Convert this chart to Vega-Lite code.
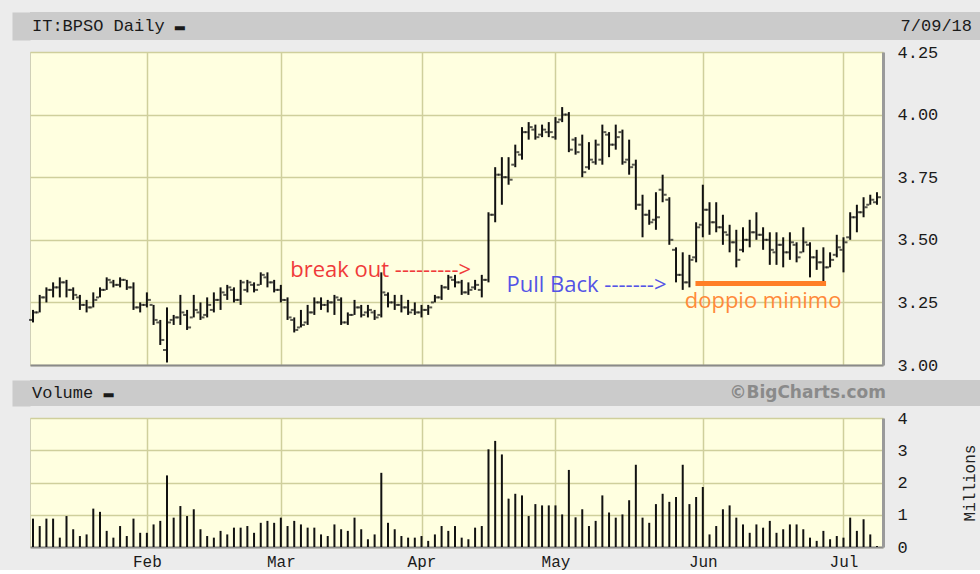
{
  "$schema": "https://vega.github.io/schema/vega-lite/v6.json",
  "background": "#ececec",
  "padding": {"left": 12, "top": 12, "right": 0, "bottom": 0},
  "spacing": 2,
  "config": {
    "view": {"stroke": null},
    "axis": {
      "gridColor": "#cfcf9c", "gridWidth": 1.5, "gridOpacity": 1,
      "labelFont": "Liberation Mono", "labelFontSize": 17, "labelColor": "#1a1a1a",
      "ticks": false, "domainColor": "#8a8a8a", "domainWidth": 2,
      "titleFont": "Liberation Mono", "titleFontSize": 16, "titleFontWeight": "normal", "titleColor": "#222"
    }
  },
  "datasets": {
    "hdr1": [{"pos": 0, "label": "IT:BPSO Daily ▬"}, {"pos": 1, "label": "7/09/18"}],
    "hdr2": [{"pos": 0, "label": "Volume ▬"}, {"pos": 1, "label": "©BigCharts.com"}],
    "notes": [
      {"x": 38.4, "y": 3.38, "label": "break out --------->", "kind": "break"},
      {"x": 70.7, "y": 3.32, "label": "Pull Back ------->", "kind": "pull"},
      {"x": 97.3, "y": 3.255, "label": "doppio minimo", "kind": "doppio"}
    ],
    "support": [{"x1": 98.9, "x2": 118.4, "y": 3.325}],
    "bars": [
      {"i":0,"o":3.18,"h":3.22,"l":3.17,"c":3.21,"v":0.88},
      {"i":1,"o":3.21,"h":3.28,"l":3.21,"c":3.27,"v":0.65},
      {"i":2,"o":3.27,"h":3.31,"l":3.25,"c":3.30,"v":0.88},
      {"i":3,"o":3.30,"h":3.33,"l":3.27,"c":3.31,"v":0.88},
      {"i":4,"o":3.31,"h":3.35,"l":3.27,"c":3.33,"v":0.29},
      {"i":5,"o":3.33,"h":3.34,"l":3.27,"c":3.30,"v":0.96},
      {"i":6,"o":3.30,"h":3.31,"l":3.26,"c":3.28,"v":0.55},
      {"i":7,"o":3.27,"h":3.28,"l":3.22,"c":3.24,"v":0.34},
      {"i":8,"o":3.24,"h":3.26,"l":3.21,"c":3.23,"v":0.39},
      {"i":9,"o":3.23,"h":3.29,"l":3.23,"c":3.26,"v":1.19},
      {"i":10,"o":3.27,"h":3.31,"l":3.27,"c":3.30,"v":1.09},
      {"i":11,"o":3.30,"h":3.35,"l":3.30,"c":3.34,"v":0.50},
      {"i":12,"o":3.33,"h":3.34,"l":3.31,"c":3.32,"v":0.29},
      {"i":13,"o":3.32,"h":3.35,"l":3.31,"c":3.34,"v":0.65},
      {"i":14,"o":3.34,"h":3.34,"l":3.30,"c":3.31,"v":0.34},
      {"i":15,"o":3.31,"h":3.33,"l":3.22,"c":3.23,"v":0.88},
      {"i":16,"o":3.23,"h":3.25,"l":3.21,"c":3.24,"v":0.44},
      {"i":17,"o":3.24,"h":3.29,"l":3.23,"c":3.26,"v":0.44},
      {"i":18,"o":3.24,"h":3.24,"l":3.16,"c":3.18,"v":0.70},
      {"i":19,"o":3.17,"h":3.18,"l":3.08,"c":3.10,"v":0.81},
      {"i":20,"o":3.06,"h":3.23,"l":3.01,"c":3.17,"v":2.22},
      {"i":21,"o":3.18,"h":3.20,"l":3.16,"c":3.19,"v":0.91},
      {"i":22,"o":3.19,"h":3.28,"l":3.16,"c":3.21,"v":1.27},
      {"i":23,"o":3.20,"h":3.22,"l":3.14,"c":3.15,"v":0.96},
      {"i":24,"o":3.19,"h":3.28,"l":3.19,"c":3.22,"v":1.17},
      {"i":25,"o":3.21,"h":3.25,"l":3.18,"c":3.19,"v":0.55},
      {"i":26,"o":3.20,"h":3.27,"l":3.19,"c":3.24,"v":0.34},
      {"i":27,"o":3.22,"h":3.29,"l":3.21,"c":3.26,"v":0.29},
      {"i":28,"o":3.26,"h":3.31,"l":3.22,"c":3.29,"v":0.50},
      {"i":29,"o":3.28,"h":3.32,"l":3.26,"c":3.31,"v":0.39},
      {"i":30,"o":3.30,"h":3.31,"l":3.25,"c":3.26,"v":0.60},
      {"i":31,"o":3.26,"h":3.34,"l":3.24,"c":3.33,"v":0.60},
      {"i":32,"o":3.30,"h":3.34,"l":3.29,"c":3.33,"v":0.65},
      {"i":33,"o":3.32,"h":3.33,"l":3.29,"c":3.30,"v":0.44},
      {"i":34,"o":3.32,"h":3.37,"l":3.32,"c":3.36,"v":0.75},
      {"i":35,"o":3.35,"h":3.37,"l":3.31,"c":3.33,"v":0.81},
      {"i":36,"o":3.33,"h":3.34,"l":3.29,"c":3.30,"v":0.75},
      {"i":37,"o":3.30,"h":3.32,"l":3.25,"c":3.26,"v":0.91},
      {"i":38,"o":3.26,"h":3.27,"l":3.18,"c":3.19,"v":0.65},
      {"i":39,"o":3.18,"h":3.19,"l":3.13,"c":3.14,"v":0.81},
      {"i":40,"o":3.15,"h":3.22,"l":3.15,"c":3.16,"v":0.70},
      {"i":41,"o":3.17,"h":3.24,"l":3.16,"c":3.21,"v":0.60},
      {"i":42,"o":3.21,"h":3.27,"l":3.20,"c":3.25,"v":0.60},
      {"i":43,"o":3.25,"h":3.27,"l":3.22,"c":3.24,"v":0.39},
      {"i":44,"o":3.24,"h":3.26,"l":3.21,"c":3.25,"v":0.34},
      {"i":45,"o":3.25,"h":3.28,"l":3.20,"c":3.27,"v":0.70},
      {"i":46,"o":3.26,"h":3.27,"l":3.16,"c":3.17,"v":0.55},
      {"i":47,"o":3.17,"h":3.21,"l":3.16,"c":3.20,"v":0.50},
      {"i":48,"o":3.20,"h":3.26,"l":3.20,"c":3.23,"v":0.91},
      {"i":49,"o":3.23,"h":3.24,"l":3.19,"c":3.20,"v":0.55},
      {"i":50,"o":3.21,"h":3.24,"l":3.19,"c":3.22,"v":0.24},
      {"i":51,"o":3.21,"h":3.22,"l":3.18,"c":3.19,"v":0.39},
      {"i":52,"o":3.20,"h":3.37,"l":3.19,"c":3.29,"v":2.30},
      {"i":53,"o":3.28,"h":3.29,"l":3.23,"c":3.25,"v":0.75},
      {"i":54,"o":3.25,"h":3.28,"l":3.22,"c":3.24,"v":0.55},
      {"i":55,"o":3.24,"h":3.28,"l":3.21,"c":3.23,"v":0.34},
      {"i":56,"o":3.23,"h":3.26,"l":3.20,"c":3.21,"v":0.29},
      {"i":57,"o":3.22,"h":3.25,"l":3.20,"c":3.21,"v":0.29},
      {"i":58,"o":3.21,"h":3.24,"l":3.19,"c":3.22,"v":0.34},
      {"i":59,"o":3.22,"h":3.24,"l":3.20,"c":3.23,"v":0.19},
      {"i":60,"o":3.25,"h":3.28,"l":3.25,"c":3.27,"v":0.39},
      {"i":61,"o":3.27,"h":3.32,"l":3.26,"c":3.31,"v":0.65},
      {"i":62,"o":3.31,"h":3.36,"l":3.30,"c":3.35,"v":0.50},
      {"i":63,"o":3.34,"h":3.36,"l":3.31,"c":3.33,"v":0.65},
      {"i":64,"o":3.33,"h":3.34,"l":3.28,"c":3.29,"v":0.29},
      {"i":65,"o":3.29,"h":3.33,"l":3.28,"c":3.30,"v":0.24},
      {"i":66,"o":3.31,"h":3.34,"l":3.30,"c":3.32,"v":0.60},
      {"i":67,"o":3.30,"h":3.36,"l":3.27,"c":3.34,"v":0.65},
      {"i":68,"o":3.34,"h":3.61,"l":3.33,"c":3.60,"v":3.03},
      {"i":69,"o":3.60,"h":3.79,"l":3.57,"c":3.76,"v":3.29},
      {"i":70,"o":3.76,"h":3.83,"l":3.64,"c":3.75,"v":2.87},
      {"i":71,"o":3.75,"h":3.83,"l":3.72,"c":3.74,"v":1.50},
      {"i":72,"o":3.80,"h":3.88,"l":3.79,"c":3.85,"v":1.65},
      {"i":73,"o":3.84,"h":3.95,"l":3.82,"c":3.93,"v":1.60},
      {"i":74,"o":3.93,"h":3.97,"l":3.90,"c":3.95,"v":0.96},
      {"i":75,"o":3.94,"h":3.96,"l":3.90,"c":3.91,"v":1.33},
      {"i":76,"o":3.92,"h":3.96,"l":3.91,"c":3.94,"v":1.29},
      {"i":77,"o":3.93,"h":3.97,"l":3.91,"c":3.93,"v":1.29},
      {"i":78,"o":3.91,"h":3.99,"l":3.90,"c":3.97,"v":1.29},
      {"i":79,"o":3.98,"h":4.03,"l":3.97,"c":4.00,"v":1.01},
      {"i":80,"o":4.00,"h":4.01,"l":3.85,"c":3.86,"v":2.39},
      {"i":81,"o":3.90,"h":3.91,"l":3.84,"c":3.85,"v":0.92},
      {"i":82,"o":3.88,"h":3.92,"l":3.75,"c":3.77,"v":1.17},
      {"i":83,"o":3.79,"h":3.89,"l":3.78,"c":3.82,"v":0.65},
      {"i":84,"o":3.81,"h":3.90,"l":3.80,"c":3.88,"v":0.81},
      {"i":85,"o":3.82,"h":3.96,"l":3.80,"c":3.93,"v":1.60},
      {"i":86,"o":3.92,"h":3.93,"l":3.83,"c":3.88,"v":1.07},
      {"i":87,"o":3.88,"h":3.96,"l":3.86,"c":3.91,"v":0.91},
      {"i":88,"o":3.93,"h":3.94,"l":3.80,"c":3.81,"v":1.01},
      {"i":89,"o":3.82,"h":3.90,"l":3.76,"c":3.79,"v":1.45},
      {"i":90,"o":3.80,"h":3.82,"l":3.62,"c":3.64,"v":2.55},
      {"i":91,"o":3.64,"h":3.68,"l":3.51,"c":3.60,"v":0.91},
      {"i":92,"o":3.60,"h":3.62,"l":3.56,"c":3.57,"v":0.75},
      {"i":93,"o":3.58,"h":3.69,"l":3.54,"c":3.59,"v":1.33},
      {"i":94,"o":3.70,"h":3.76,"l":3.65,"c":3.68,"v":1.65},
      {"i":95,"o":3.66,"h":3.67,"l":3.48,"c":3.50,"v":1.40},
      {"i":96,"o":3.46,"h":3.47,"l":3.33,"c":3.36,"v":1.55},
      {"i":97,"o":3.36,"h":3.45,"l":3.30,"c":3.33,"v":2.55},
      {"i":98,"o":3.33,"h":3.44,"l":3.31,"c":3.42,"v":1.33},
      {"i":99,"o":3.43,"h":3.57,"l":3.41,"c":3.55,"v":1.55},
      {"i":100,"o":3.56,"h":3.72,"l":3.51,"c":3.62,"v":1.86},
      {"i":101,"o":3.62,"h":3.65,"l":3.52,"c":3.57,"v":0.39},
      {"i":102,"o":3.57,"h":3.65,"l":3.53,"c":3.55,"v":0.65},
      {"i":103,"o":3.55,"h":3.60,"l":3.48,"c":3.53,"v":1.17},
      {"i":104,"o":3.52,"h":3.56,"l":3.45,"c":3.49,"v":1.29},
      {"i":105,"o":3.49,"h":3.54,"l":3.39,"c":3.42,"v":0.91},
      {"i":106,"o":3.46,"h":3.55,"l":3.45,"c":3.50,"v":0.70},
      {"i":107,"o":3.50,"h":3.58,"l":3.47,"c":3.53,"v":0.44},
      {"i":108,"o":3.53,"h":3.61,"l":3.50,"c":3.52,"v":0.70},
      {"i":109,"o":3.52,"h":3.55,"l":3.46,"c":3.50,"v":0.60},
      {"i":110,"o":3.50,"h":3.53,"l":3.40,"c":3.46,"v":0.81},
      {"i":111,"o":3.45,"h":3.53,"l":3.40,"c":3.48,"v":0.44},
      {"i":112,"o":3.48,"h":3.51,"l":3.39,"c":3.45,"v":0.55},
      {"i":113,"o":3.45,"h":3.53,"l":3.42,"c":3.49,"v":0.70},
      {"i":114,"o":3.48,"h":3.49,"l":3.41,"c":3.43,"v":0.70},
      {"i":115,"o":3.45,"h":3.55,"l":3.45,"c":3.49,"v":0.55},
      {"i":116,"o":3.48,"h":3.49,"l":3.35,"c":3.43,"v":0.29},
      {"i":117,"o":3.43,"h":3.46,"l":3.38,"c":3.41,"v":0.19},
      {"i":118,"o":3.41,"h":3.47,"l":3.33,"c":3.39,"v":0.50},
      {"i":119,"o":3.39,"h":3.45,"l":3.39,"c":3.42,"v":0.24},
      {"i":120,"o":3.44,"h":3.52,"l":3.43,"c":3.47,"v":0.34},
      {"i":121,"o":3.46,"h":3.51,"l":3.37,"c":3.49,"v":0.29},
      {"i":122,"o":3.51,"h":3.61,"l":3.50,"c":3.59,"v":0.91},
      {"i":123,"o":3.59,"h":3.64,"l":3.53,"c":3.61,"v":0.50},
      {"i":124,"o":3.61,"h":3.67,"l":3.59,"c":3.63,"v":0.86},
      {"i":125,"o":3.64,"h":3.68,"l":3.64,"c":3.66,"v":0.39},
      {"i":126,"o":3.65,"h":3.69,"l":3.64,"c":3.67,"v":0.03}
    ]
  },
  "vconcat": [
    {
      "width": 950, "height": 28,
      "view": {"fill": "#cbcbcb", "stroke": null},
      "data": {"name": "hdr1"},
      "layer": [
        {
          "transform": [{"filter": "datum.pos == 0"}],
          "mark": {"type": "text", "align": "left", "baseline": "middle", "dx": 2, "font": "Liberation Mono", "fontSize": 17, "color": "#1a1a1a"},
          "encoding": {
            "x": {"field": "pos", "type": "quantitative", "scale": {"domain": [0, 1], "nice": false, "zero": false}, "axis": null},
            "y": {"datum": 0.5, "type": "quantitative", "scale": {"domain": [0, 1], "nice": false, "zero": false},
                  "axis": {"orient": "left", "labels": false, "ticks": false, "grid": false, "title": null, "domain": true, "domainColor": "#cbcbcb", "domainWidth": 18, "offset": 9, "minExtent": 9, "maxExtent": 9}},
            "text": {"field": "label", "type": "nominal"}
          }
        },
        {
          "transform": [{"filter": "datum.pos == 1"}],
          "mark": {"type": "text", "align": "right", "baseline": "middle", "dx": -8, "font": "Liberation Mono", "fontSize": 17, "color": "#1a1a1a"},
          "encoding": {
            "x": {"field": "pos", "type": "quantitative", "scale": {"domain": [0, 1], "nice": false, "zero": false}, "axis": null},
            "y": {"datum": 0.5, "type": "quantitative", "scale": {"domain": [0, 1], "nice": false, "zero": false}},
            "text": {"field": "label", "type": "nominal"}
          }
        }
      ]
    },
    {
      "width": 853, "height": 313,
      "view": {"fill": "#ffffe0", "stroke": "#d0d0b8", "strokeWidth": 1},
      "layer": [
        {
          "data": {"name": "bars"},
          "mark": {"type": "rule", "color": "#111", "strokeWidth": 2},
          "encoding": {
            "x": {"field": "i", "type": "quantitative", "scale": {"domain": [-0.45, 126.9], "nice": false, "zero": false},
                  "axis": {"values": [17, 37, 58, 78, 100, 121], "labels": false, "ticks": false, "grid": true, "domain": true, "domainColor": "#8a8a8a", "domainWidth": 2, "title": null, "minExtent": 12, "maxExtent": 12}},
            "y": {"field": "l", "type": "quantitative", "scale": {"domain": [3, 4.25], "nice": false, "zero": false},
                  "axis": {"orient": "right", "values": [3, 3.25, 3.5, 3.75, 4, 4.25], "format": ".2f", "labelPadding": 14, "grid": true, "domainColor": "#9a9a9a", "domainWidth": 3, "title": null, "minExtent": 30}},
            "y2": {"field": "h"}
          }
        },
        {
          "data": {"name": "bars"},
          "mark": {"type": "tick", "orient": "horizontal", "size": 3, "thickness": 2, "xOffset": -2.5, "color": "#111"},
          "encoding": {
            "x": {"field": "i", "type": "quantitative", "scale": {"domain": [-0.45, 126.9], "nice": false, "zero": false}},
            "y": {"field": "o", "type": "quantitative", "scale": {"domain": [3, 4.25], "nice": false, "zero": false}}
          }
        },
        {
          "data": {"name": "bars"},
          "mark": {"type": "tick", "orient": "horizontal", "size": 3, "thickness": 2, "xOffset": 2.5, "color": "#111"},
          "encoding": {
            "x": {"field": "i", "type": "quantitative", "scale": {"domain": [-0.45, 126.9], "nice": false, "zero": false}},
            "y": {"field": "c", "type": "quantitative", "scale": {"domain": [3, 4.25], "nice": false, "zero": false}}
          }
        },
        {
          "data": {"name": "support"},
          "mark": {"type": "rule", "color": "#ff7f27", "strokeWidth": 5},
          "encoding": {
            "x": {"field": "x1", "type": "quantitative", "scale": {"domain": [-0.45, 126.9], "nice": false, "zero": false}},
            "x2": {"field": "x2"},
            "y": {"field": "y", "type": "quantitative", "scale": {"domain": [3, 4.25], "nice": false, "zero": false}}
          }
        },
        {
          "data": {"name": "notes"},
          "mark": {"type": "text", "align": "left", "baseline": "middle", "font": "Open Sans", "fontSize": 22},
          "encoding": {
            "x": {"field": "x", "type": "quantitative", "scale": {"domain": [-0.45, 126.9], "nice": false, "zero": false}},
            "y": {"field": "y", "type": "quantitative", "scale": {"domain": [3, 4.25], "nice": false, "zero": false}},
            "text": {"field": "label", "type": "nominal"},
            "color": {"field": "kind", "type": "nominal", "scale": {"domain": ["break", "pull", "doppio"], "range": ["#f03a3a", "#5454e6", "#ff8a3a"]}, "legend": null}
          }
        }
      ]
    },
    {
      "width": 950, "height": 26,
      "view": {"fill": "#cbcbcb", "stroke": null},
      "data": {"name": "hdr2"},
      "layer": [
        {
          "transform": [{"filter": "datum.pos == 0"}],
          "mark": {"type": "text", "align": "left", "baseline": "middle", "dx": 2, "font": "Liberation Mono", "fontSize": 17, "color": "#1a1a1a"},
          "encoding": {
            "x": {"field": "pos", "type": "quantitative", "scale": {"domain": [0, 1], "nice": false, "zero": false}, "axis": null},
            "y": {"datum": 0.5, "type": "quantitative", "scale": {"domain": [0, 1], "nice": false, "zero": false},
                  "axis": {"orient": "left", "labels": false, "ticks": false, "grid": false, "title": null, "domain": true, "domainColor": "#cbcbcb", "domainWidth": 18, "offset": 9, "minExtent": 9, "maxExtent": 9}},
            "text": {"field": "label", "type": "nominal"}
          }
        },
        {
          "transform": [{"filter": "datum.pos == 1"}],
          "mark": {"type": "text", "align": "right", "baseline": "middle", "dx": -94, "font": "DejaVu Sans", "fontSize": 17, "fontWeight": "bold", "color": "#8a8a8a"},
          "encoding": {
            "x": {"field": "pos", "type": "quantitative", "scale": {"domain": [0, 1], "nice": false, "zero": false}, "axis": null},
            "y": {"datum": 0.5, "type": "quantitative", "scale": {"domain": [0, 1], "nice": false, "zero": false}},
            "text": {"field": "label", "type": "nominal"}
          }
        }
      ]
    },
    {
      "width": 853, "height": 129,
      "view": {"fill": "#ffffe0", "stroke": "#d0d0b8", "strokeWidth": 1},
      "data": {"name": "bars"},
      "mark": {"type": "rule", "color": "#111", "strokeWidth": 2},
      "encoding": {
        "x": {"field": "i", "type": "quantitative", "scale": {"domain": [-0.45, 126.9], "nice": false, "zero": false},
              "axis": {"values": [17, 37, 58, 78, 100, 121], "labelExpr": "datum.value == 17 ? 'Feb' : datum.value == 37 ? 'Mar' : datum.value == 58 ? 'Apr' : datum.value == 78 ? 'May' : datum.value == 100 ? 'Jun' : 'Jul'", "labelFlush": false, "labelPadding": 6, "labelFontSize": 16, "ticks": false, "grid": true, "domainColor": "#8a8a8a", "domainWidth": 2, "title": null}},
        "y": {"field": "v", "type": "quantitative", "scale": {"domain": [0, 4], "nice": false},
              "axis": {"orient": "right", "values": [0, 1, 2, 3, 4], "format": "d", "labelPadding": 14, "grid": true, "domainColor": "#9a9a9a", "domainWidth": 3, "title": "Millions", "titleAngle": 270, "titleBaseline": "top", "titlePadding": 48, "minExtent": 30, "maxExtent": 30}},
        "y2": {"datum": 0}
      }
    }
  ]
}
